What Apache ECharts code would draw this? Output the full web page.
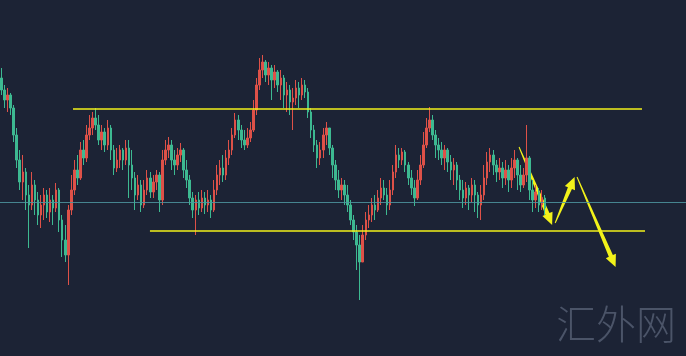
<!DOCTYPE html>
<html><head><meta charset="utf-8">
<script src="https://cdn.jsdelivr.net/npm/echarts@6/dist/echarts.min.js"></script>
<style>html,body{margin:0;padding:0;background:#1c2335;overflow:hidden}#c{width:686px;height:356px}</style>
</head><body><div id="c"></div>
<script>
// ---- data ----
const firstOpen = 2278;
const closes = [
2266,2256,2261,2248,2221,2196,2174,2184,2161,2151,
2171,2156,2141,2151,2161,2144,2156,2148,2166,2136,
2116,2101,2146,2166,2186,2178,2206,2198,2221,2228,
2238,2231,2216,2224,2211,2228,2206,2188,2196,2206,
2196,2208,2191,2178,2161,2171,2151,2166,2178,2164,
2174,2181,2156,2196,2206,2211,2196,2191,2201,2206,
2186,2176,2158,2146,2156,2148,2158,2151,2156,2146,
2166,2181,2188,2181,2198,2206,2221,2236,2226,2216,
2211,2218,2226,2246,2271,2286,2294,2281,2288,2276,
2284,2271,2278,2261,2266,2254,2258,2268,2261,2271,
2264,2244,2226,2211,2198,2206,2221,2228,2208,2191,
2176,2166,2171,2161,2151,2136,2124,2111,2094,2121,
2136,2141,2151,2146,2158,2168,2161,2151,2166,2184,
2201,2196,2204,2191,2178,2168,2158,2176,2191,2211,
2228,2236,2221,2211,2206,2198,2206,2194,2186,2191,
2176,2166,2158,2168,2161,2171,2161,2151,2161,2178,
2194,2201,2191,2184,2188,2178,2186,2176,2188,2196,
2181,2171,2181,2198,2166,2156,2164,2151,2158,2148];
const highs = [
2288,2271,2268,2263,2251,2228,2206,2201,2188,2171,
2184,2176,2164,2161,2168,2166,2168,2161,2173,2168,
2141,2131,2151,2181,2196,2201,2214,2216,2231,2241,
2244,2248,2241,2231,2228,2236,2231,2211,2208,2211,
2208,2216,2216,2206,2184,2181,2176,2176,2186,2184,
2181,2186,2184,2206,2216,2219,2216,2206,2208,2213,
2208,2196,2181,2164,2161,2164,2166,2164,2166,2161,
2176,2191,2196,2201,2206,2216,2228,2243,2241,2231,
2226,2228,2234,2256,2278,2298,2301,2296,2294,2291,
2291,2286,2286,2281,2274,2271,2268,2276,2274,2278,
2276,2268,2248,2231,2216,2214,2228,2234,2228,2211,
2196,2186,2178,2176,2171,2156,2141,2131,2121,2131,
2144,2151,2158,2161,2166,2178,2176,2168,2176,2191,
2211,2208,2208,2206,2194,2186,2176,2186,2201,2224,
2238,2249,2241,2226,2218,2214,2211,2208,2201,2198,
2194,2181,2176,2174,2171,2178,2176,2164,2171,2191,
2204,2208,2206,2196,2198,2194,2196,2191,2198,2206,
2198,2191,2188,2231,2200,2176,2171,2168,2166,2161];
const lows = [
2261,2248,2244,2241,2214,2188,2166,2156,2146,2108,
2146,2141,2131,2128,2136,2138,2134,2131,2144,2124,
2099,2094,2071,2141,2161,2171,2176,2191,2194,2216,
2221,2226,2211,2206,2204,2206,2196,2181,2184,2188,
2186,2191,2158,2166,2146,2156,2144,2148,2161,2158,
2158,2166,2144,2151,2191,2198,2186,2181,2186,2194,
2178,2168,2151,2138,2121,2141,2144,2142,2144,2138,
2144,2161,2171,2174,2176,2191,2201,2218,2216,2208,
2206,2208,2214,2224,2241,2266,2278,2274,2271,2256,
2268,2264,2256,2248,2244,2241,2226,2251,2248,2256,
2258,2238,2218,2204,2188,2191,2198,2211,2201,2178,
2166,2158,2156,2151,2144,2131,2116,2086,2056,2101,
2116,2128,2134,2136,2144,2151,2156,2141,2146,2161,
2178,2188,2191,2184,2171,2161,2150,2156,2171,2188,
2208,2224,2216,2198,2196,2191,2186,2184,2176,2171,
2166,2156,2148,2151,2146,2154,2144,2138,2136,2156,
2171,2184,2181,2174,2176,2168,2171,2164,2168,2178,
2166,2164,2168,2174,2156,2144,2148,2144,2146,2141];
const totalSlots = 226;
const categories = Array.from({length: totalSlots}, (_, i) => 'K' + (i + 1));
const resistance = 2247, support = 2125, midLevel = 2154;
const resistanceSpan = [23.55, 211.0];
const supportSpan = [48.9, 212.0];
// [startIndex, startPrice, endIndex, endPrice]
const arrows = [
  [170.5, 2209, 181.4, 2131],
  [182.4, 2133, 188.8, 2179],
  [189.6, 2179, 202.3, 2089]
];
const watermark = '汇外网';

// ---- build ----
const ohlc = closes.map((c, i) => {
  const o = i === 0 ? firstOpen : closes[i - 1];
  return [o, c, Math.min(lows[i], o, c), Math.max(highs[i], o, c)];
});

const chart = echarts.init(document.getElementById('c'), null, {renderer: 'canvas'});
const yellow = '#f2f21a';
chart.setOption({
  animation: false,
  backgroundColor: '#1c2335',
  grid: {left: 0, right: 0, top: 0, bottom: 0},
  xAxis: [
    {type: 'category', data: categories, show: false, boundaryGap: true},
    {type: 'value', min: -0.5, max: totalSlots - 0.5, show: false}
  ],
  yAxis: {type: 'value', min: 2000, max: 2356, show: false, scale: true},
  series: [
    {
      type: 'candlestick', data: ohlc, barWidth: 2,
      itemStyle: {color: '#de5148', color0: '#3db991', borderColor: '#de5148', borderColor0: '#3db991', borderWidth: 1},
      markLine: {silent: true, symbol: 'none', label: {show: false},
        lineStyle: {color: 'rgba(78,150,160,0.85)', width: 1, type: 'solid'},
        data: [{yAxis: midLevel}]}
    },
    {
      type: 'line', xAxisIndex: 1, symbol: 'none', silent: true,
      lineStyle: {color: yellow, width: 1.3},
      data: [[resistanceSpan[0], resistance], [resistanceSpan[1], resistance]]
    },
    {
      type: 'line', xAxisIndex: 1, symbol: 'none', silent: true,
      lineStyle: {color: yellow, width: 1.3},
      data: [[supportSpan[0], support], [supportSpan[1], support]]
    },
    {
      type: 'custom', xAxisIndex: 1, data: arrows, silent: true,
      encode: {x: [0, 2], y: [1, 3]},
      renderItem(params, api) {
        const p1 = api.coord([api.value(0), api.value(1)]);
        const p2 = api.coord([api.value(2), api.value(3)]);
        const dx = p2[0] - p1[0], dy = p2[1] - p1[1];
        const len = Math.hypot(dx, dy);
        const ux = dx / len, uy = dy / len, nx = -uy, ny = ux;
        const headLen = 12, headHalf = 5.5, tail = 0.5, neck = 2.2;
        const bx = p2[0] - ux * headLen, by = p2[1] - uy * headLen;
        const pts = [
          [p1[0] + nx * tail, p1[1] + ny * tail],
          [bx + nx * neck, by + ny * neck],
          [bx + nx * headHalf, by + ny * headHalf],
          p2,
          [bx - nx * headHalf, by - ny * headHalf],
          [bx - nx * neck, by - ny * neck],
          [p1[0] - nx * tail, p1[1] - ny * tail]
        ];
        return {type: 'polygon', shape: {points: pts}, style: {fill: yellow}};
      }
    }
  ],
  graphic: [{
    type: 'text', left: 556, top: 304, silent: true,
    style: {text: watermark, fill: '#4b5468', font: '300 40px "Noto Sans CJK SC", sans-serif'}
  }]
});
</script></body></html>
